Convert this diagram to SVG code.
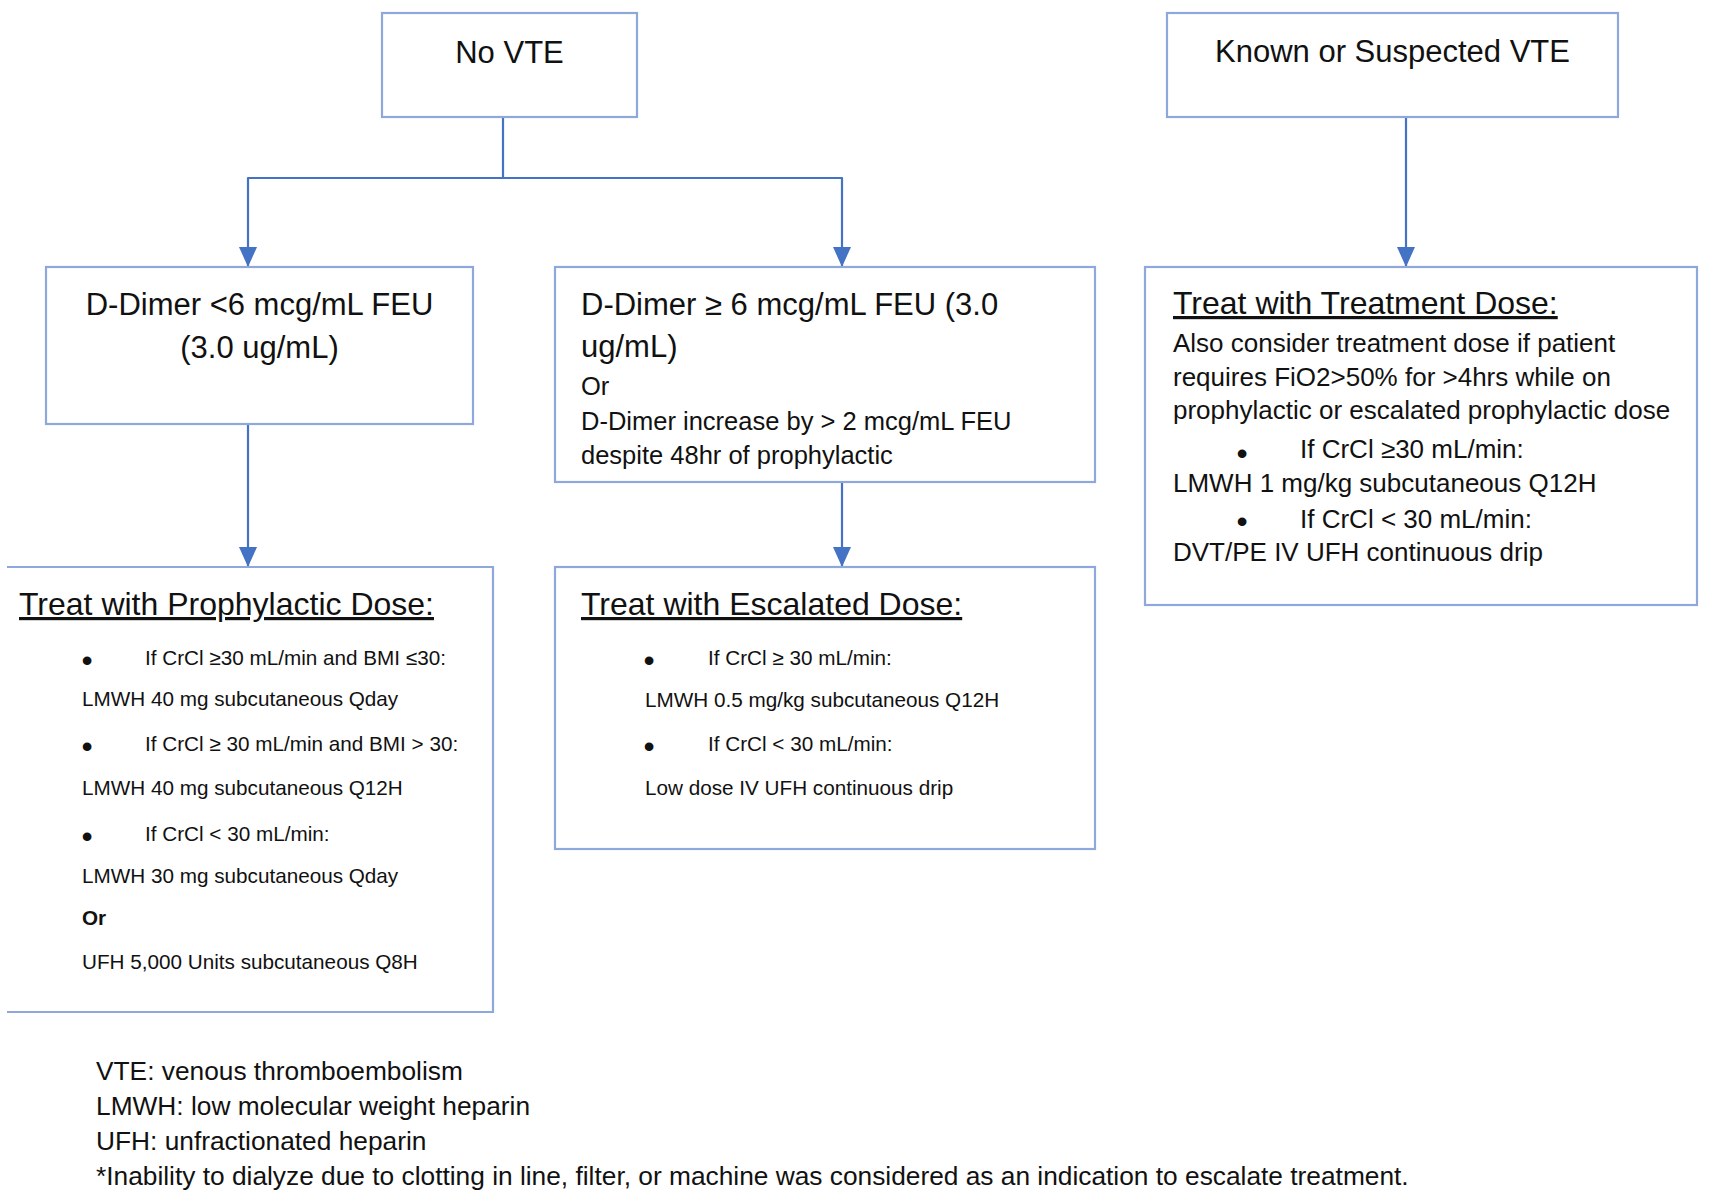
<svg xmlns="http://www.w3.org/2000/svg" width="1713" height="1202" viewBox="0 0 1713 1202">
<style>
.box{fill:#ffffff;stroke:#8FA8DC;stroke-width:2.2}
.conn{fill:none;stroke:#4472C4;stroke-width:2.2;stroke-linejoin:round}
text{font-family:"Liberation Sans",Arial,sans-serif;fill:#111111}
.big{font-size:31px}
.head{font-size:32px;text-decoration:underline}
.mid{font-size:25.5px}
.tr{font-size:26px}
.sm{font-size:20.7px}
.bul{font-size:32px;text-anchor:middle}
.c{text-anchor:middle}
.foot{font-size:26.3px}
</style>
<defs>
<marker id="arr" markerUnits="userSpaceOnUse" markerWidth="20" markerHeight="18" viewBox="0 0 20 18" refX="20" refY="9" orient="auto">
<path d="M0,0 L20,9 L0,18 z" fill="#4472C4"/>
</marker>
</defs>
<rect width="1713" height="1202" fill="#ffffff"/>

<g id="connectors">
<path class="conn" d="M503,117 V178 H248 V267" marker-end="url(#arr)"/>
<path class="conn" d="M503,178 H842 V267" marker-end="url(#arr)"/>
<path class="conn" d="M248,424 V567" marker-end="url(#arr)"/>
<path class="conn" d="M842,482 V567" marker-end="url(#arr)"/>
<path class="conn" d="M1406,117 V267" marker-end="url(#arr)"/>
</g>

<g id="no-vte">
<rect class="box" x="382" y="13" width="255" height="104"/>
<text class="big c" x="509.5" y="63">No VTE</text>
</g>

<g id="known-vte">
<rect class="box" x="1167" y="13" width="451" height="104"/>
<text class="big c" x="1392.5" y="62">Known or Suspected VTE</text>
</g>

<g id="ddimer-low">
<rect class="box" x="46" y="267" width="427" height="157"/>
<text class="big c" x="259.5" y="315">D-Dimer &lt;6 mcg/mL FEU</text>
<text class="big c" x="259.5" y="358">(3.0 ug/mL)</text>
</g>

<g id="ddimer-high">
<rect class="box" x="555" y="267" width="540" height="215"/>
<text class="big" x="581" y="315">D-Dimer ≥ 6 mcg/mL FEU (3.0</text>
<text class="big" x="581" y="357">ug/mL)</text>
<text class="mid" x="581" y="395">Or</text>
<text class="mid" x="581" y="430">D-Dimer increase by &gt; 2 mcg/mL FEU</text>
<text class="mid" x="581" y="464">despite 48hr of prophylactic</text>
</g>

<g id="treatment-dose">
<rect class="box" x="1145" y="267" width="552" height="338"/>
<text class="head" x="1173" y="314">Treat with Treatment Dose:</text>
<text class="tr" x="1173" y="352">Also consider treatment dose if patient</text>
<text class="tr" x="1173" y="386">requires FiO2&gt;50% for &gt;4hrs while on</text>
<text class="tr" x="1173" y="419">prophylactic or escalated prophylactic dose</text>
<text class="bul" x="1242" y="464">•</text>
<text class="tr" x="1300" y="458">If CrCl ≥30 mL/min:</text>
<text class="tr" x="1173" y="492">LMWH 1 mg/kg subcutaneous Q12H</text>
<text class="bul" x="1242" y="532">•</text>
<text class="tr" x="1300" y="528">If CrCl &lt; 30 mL/min:</text>
<text class="tr" x="1173" y="561">DVT/PE IV UFH continuous drip</text>
</g>

<g id="prophylactic-dose">
<path class="box" d="M7,567 H493 V1012 H7"/>
<text class="head" x="19" y="615">Treat with Prophylactic Dose:</text>
<text class="bul" x="87" y="671">•</text>
<text class="sm" x="145" y="665">If CrCl ≥30 mL/min and BMI ≤30:</text>
<text class="sm" x="82" y="706">LMWH 40 mg subcutaneous Qday</text>
<text class="bul" x="87" y="757">•</text>
<text class="sm" x="145" y="751">If CrCl ≥ 30 mL/min and BMI &gt; 30:</text>
<text class="sm" x="82" y="795">LMWH 40 mg subcutaneous Q12H</text>
<text class="bul" x="87" y="847">•</text>
<text class="sm" x="145" y="841">If CrCl &lt; 30 mL/min:</text>
<text class="sm" x="82" y="883">LMWH 30 mg subcutaneous Qday</text>
<text class="sm" x="82" y="925" font-weight="bold">Or</text>
<text class="sm" x="82" y="969">UFH 5,000 Units subcutaneous Q8H</text>
</g>

<g id="escalated-dose">
<rect class="box" x="555" y="567" width="540" height="282"/>
<text class="head" x="581" y="615">Treat with Escalated Dose:</text>
<text class="bul" x="649" y="671">•</text>
<text class="sm" x="708" y="665">If CrCl ≥ 30 mL/min:</text>
<text class="sm" x="645" y="707">LMWH 0.5 mg/kg subcutaneous Q12H</text>
<text class="bul" x="649" y="757">•</text>
<text class="sm" x="708" y="751">If CrCl &lt; 30 mL/min:</text>
<text class="sm" x="645" y="795">Low dose IV UFH continuous drip</text>
</g>

<g id="legend">
<text class="foot" x="96" y="1080">VTE: venous thromboembolism</text>
<text class="foot" x="96" y="1115">LMWH: low molecular weight heparin</text>
<text class="foot" x="96" y="1150">UFH: unfractionated heparin</text>
<text class="foot" x="96" y="1185">*Inability to dialyze due to clotting in line, filter, or machine was considered as an indication to escalate treatment.</text>
</g>
</svg>
